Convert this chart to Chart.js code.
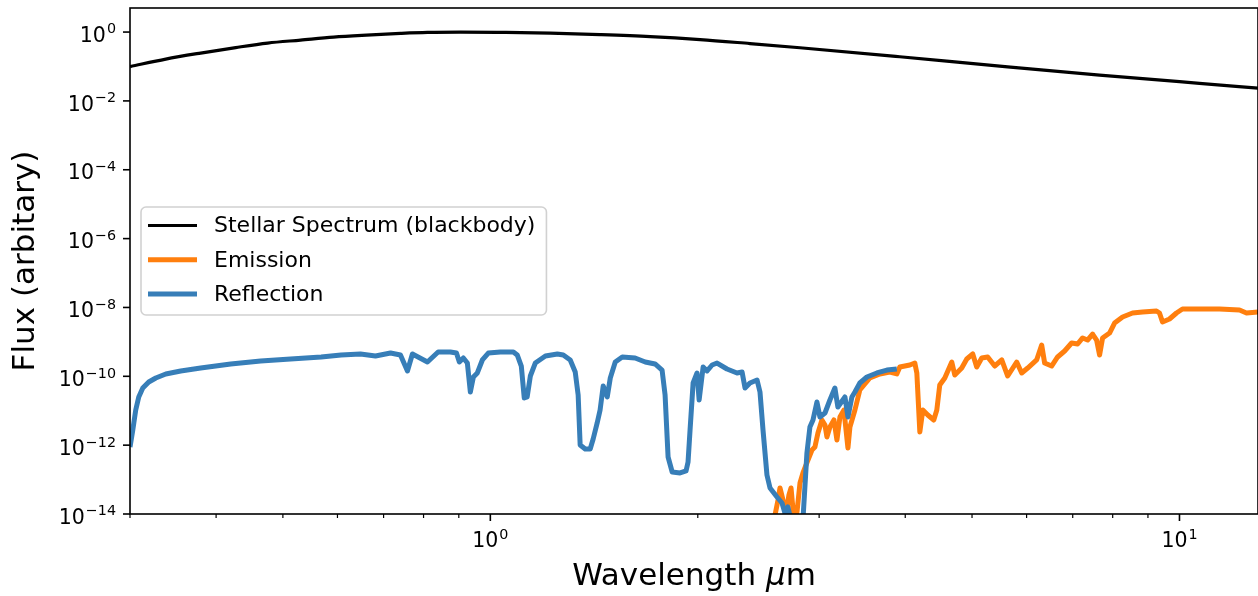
<!DOCTYPE html>
<html lang="en">
<head>
    <meta charset="UTF-8">
    <title>Spectrum</title>
    <script src="https://cdn.jsdelivr.net/npm/chart.js"></script>
    <style>
        body { margin: 0; background: #fff; }
        .wrap { width: 1258px; height: 596px; position: relative; }
    </style>
</head>
<body>
    <div class="wrap">
        <canvas id="spectrum"></canvas>
    </div>

    <script>
        // wavelength in micron, flux normalised to the stellar peak
        const stellarWavelength = [0.3, 0.3381, 0.3799, 0.4271, 0.4752, 0.5304, 0.5924, 0.6611, 0.7406, 0.8105,
            0.9048, 1.034, 1.222, 1.443, 1.706, 2.015, 2.381, 2.814, 3.928, 5.485, 7.657, 10.69, 13];
        const stellarFlux = [0.0995, 0.1643, 0.2455, 0.3548, 0.4792, 0.5856, 0.7157, 0.8182, 0.9167, 0.980,
            1.0, 0.980, 0.9354, 0.8460, 0.7400, 0.6055, 0.4634, 0.3500, 0.1917, 0.1029, 0.0564, 0.0324, 0.0236];

        const emissionWavelength = [2.546, 2.615, 2.632, 2.659, 2.685, 2.712, 2.731, 2.758, 2.786, 2.814,
            2.842, 2.890, 2.929, 2.958, 2.988, 3.028, 3.059, 3.079, 3.110, 3.152,
            3.184, 3.216, 3.259, 3.303, 3.325, 3.381, 3.437, 3.554, 3.675, 3.799,
            3.889, 3.928, 4.062, 4.130, 4.158, 4.200, 4.242, 4.313, 4.400, 4.445,
            4.489, 4.565, 4.673, 4.720, 4.831, 4.913, 5.012, 5.079, 5.165, 5.269,
            5.394, 5.522, 5.633, 5.805, 5.903, 6.022, 6.205, 6.310, 6.373, 6.523,
            6.655, 6.813, 6.974, 7.115, 7.235, 7.356, 7.480, 7.581, 7.657, 7.734,
            7.917, 8.050, 8.268, 8.549, 8.839, 9.261, 9.354, 9.449, 9.672, 9.900,
            10.10, 10.69, 11.43, 12.22, 12.51, 13];
        const emissionFlux = [1.76e-15, 2.55e-14, 5.70e-14, 2.55e-14, 9.37e-15, 3.57e-14, 5.70e-14, 6.71e-15, 1.15e-14, 7.96e-14,
            1.56e-13, 3.71e-13, 7.24e-13, 8.85e-13, 2.25e-12, 5.38e-12, 3.85e-12, 1.73e-12, 3.37e-12, 5.38e-12,
            1.41e-12, 6.58e-12, 1.05e-11, 8.28e-13, 3.37e-12, 1.05e-11, 4.00e-11, 8.93e-11, 1.17e-10, 1.33e-10,
            1.17e-10, 1.86e-10, 2.13e-10, 2.43e-10, 1.25e-10, 2.41e-12, 1.05e-11, 7.52e-12, 5.38e-12, 1.05e-11,
            5.59e-11, 8.93e-11, 2.60e-10, 1.09e-10, 1.74e-10, 3.18e-10, 4.45e-10, 1.86e-10, 3.40e-10, 3.64e-10,
            1.99e-10, 2.98e-10, 1.02e-10, 2.60e-10, 1.25e-10, 1.74e-10, 2.98e-10, 8.11e-10, 2.43e-10, 1.99e-10,
            3.64e-10, 5.43e-10, 9.27e-10, 8.67e-10, 1.30e-9, 1.13e-9, 1.69e-9, 1.13e-9, 4.16e-10, 1.30e-9,
            1.81e-9, 3.53e-9, 5.28e-9, 6.90e-9, 7.38e-9, 7.88e-9, 6.90e-9, 3.78e-9, 4.62e-9, 6.90e-9,
            9.02e-9, 9.02e-9, 9.02e-9, 8.43e-9, 6.90e-9, 7.38e-9];

        const reflectionWavelength = [0.3, 0.3028, 0.3058, 0.3089, 0.3131, 0.3194, 0.3270, 0.3381, 0.3554, 0.3799,
            0.4200, 0.4642, 0.5130, 0.5682, 0.6073, 0.6480, 0.6813, 0.7164, 0.7406, 0.7581,
            0.7708, 0.8105, 0.8399, 0.8751, 0.8930, 0.9017, 0.9138, 0.9261, 0.9354, 0.9449,
            0.9575, 0.9737, 0.9933, 1.034, 1.080, 1.094, 1.109, 1.120, 1.131, 1.143,
            1.162, 1.202, 1.251, 1.276, 1.306, 1.328, 1.341, 1.350, 1.373, 1.396,
            1.410, 1.429, 1.443, 1.458, 1.478, 1.493, 1.518, 1.554, 1.622, 1.678,
            1.734, 1.775, 1.793, 1.811, 1.836, 1.885, 1.923, 1.936, 1.949, 1.969,
            1.995, 2.009, 2.036, 2.063, 2.098, 2.133, 2.205, 2.280, 2.319, 2.342,
            2.381, 2.438, 2.462, 2.487, 2.520, 2.546, 2.606, 2.650, 2.676, 2.703,
            2.740, 2.814, 2.842, 2.880, 2.909, 2.939, 2.978, 3.008, 3.059, 3.110,
            3.162, 3.194, 3.270, 3.303, 3.347, 3.381, 3.437, 3.519, 3.638, 3.762,
            3.889];
        const reflectionFlux = [8.85e-13, 2.76e-12, 1.05e-11, 2.51e-11, 4.57e-11, 6.84e-11, 8.93e-11, 1.17e-10, 1.43e-10, 1.74e-10,
            2.28e-10, 2.78e-10, 3.18e-10, 3.64e-10, 4.16e-10, 4.45e-10, 3.89e-10, 4.75e-10, 4.16e-10, 1.43e-10,
            4.45e-10, 2.60e-10, 5.08e-10, 5.08e-10, 4.75e-10, 2.60e-10, 3.40e-10, 2.43e-10, 3.50e-11, 9.55e-11,
            1.25e-10, 2.98e-10, 4.75e-10, 5.08e-10, 5.08e-10, 4.16e-10, 1.99e-10, 2.34e-11, 2.51e-11, 1.02e-10,
            2.43e-10, 3.89e-10, 4.45e-10, 4.16e-10, 2.98e-10, 1.33e-10, 2.86e-11, 1.01e-12, 7.74e-13, 7.74e-13,
            1.51e-12, 4.41e-12, 1.05e-11, 5.23e-11, 2.51e-11, 8.93e-11, 2.60e-10, 3.64e-10, 3.40e-10, 2.60e-10,
            2.28e-10, 1.52e-10, 2.86e-11, 4.53e-13, 1.66e-13, 1.56e-13, 1.78e-13, 3.24e-13, 2.76e-12, 6.40e-11,
            1.25e-10, 2.05e-11, 1.86e-10, 1.43e-10, 2.13e-10, 2.43e-10, 1.63e-10, 1.25e-10, 1.33e-10, 4.57e-11,
            6.40e-11, 7.81e-11, 3.50e-11, 2.76e-12, 1.36e-13, 5.70e-14, 3.12e-14, 2.09e-14, 1.07e-14, 1.60e-14,
            4.80e-15, 1.76e-15, 6.71e-15, 5.92e-13, 3.37e-12, 5.38e-12, 1.79e-11, 6.58e-12, 8.59e-12, 2.05e-11,
            4.57e-11, 1.28e-11, 2.51e-11, 6.58e-12, 2.51e-11, 3.50e-11, 6.40e-11, 9.55e-11, 1.25e-10, 1.52e-10,
            1.63e-10];

        const seriesLabels = ['Stellar Spectrum (blackbody)', 'Emission', 'Reflection'];
        const yTickValues = [1e0, 1e-2, 1e-4, 1e-6, 1e-8, 1e-10, 1e-12, 1e-14];
        const xMajorTicks = [1, 10];
        const xMinorTicks = [0.3, 0.4, 0.5, 0.6, 0.7, 0.8, 0.9, 2, 3, 4, 5, 6, 7, 8, 9];
        const xTitle = ['Wavelength ', 'μ', 'm'];   // the μ is set in italics
        const yTitle = 'Flux (arbitary)';

        const FONT = 'DejaVu Sans';
        Chart.defaults.font.family = FONT;
        Chart.defaults.color = '#000';

        function toPoints(xs, ys) {
            return xs.map((x, i) => ({ x: x, y: ys[i] }));
        }

        // "10" with a raised exponent, like matplotlib's log tick labels
        function drawPower(ctx, value, x, baseline, align) {
            const exp = Math.round(Math.log10(value));
            const sup = exp < 0 ? '\u2212' + (-exp) : String(exp);
            ctx.font = '20.5px "' + FONT + '"';
            const wBase = ctx.measureText('10').width;
            ctx.font = '14.3px "' + FONT + '"';
            const wSup = ctx.measureText(sup).width;
            const total = wBase + 1 + wSup;
            const x0 = align === 'right' ? x - total : x - total / 2;
            ctx.font = '20.5px "' + FONT + '"';
            ctx.fillText('10', x0, baseline);
            ctx.font = '14.3px "' + FONT + '"';
            ctx.fillText(sup, x0 + wBase + 1, baseline - 8.3);
        }

        const axisDecor = {
            id: 'axisDecor',
            afterDatasetsDraw(chart) {
                const { ctx, chartArea: a, scales: { x, y } } = chart;
                ctx.save();
                ctx.strokeStyle = '#000';
                ctx.fillStyle = '#000';
                ctx.textAlign = 'left';
                ctx.textBaseline = 'alphabetic';

                const tick = (x1, y1, x2, y2) => {
                    ctx.beginPath();
                    ctx.moveTo(x1, y1);
                    ctx.lineTo(x2, y2);
                    ctx.stroke();
                };

                ctx.lineWidth = 1.6;
                yTickValues.forEach(v => {
                    const py = y.getPixelForValue(v);
                    tick(a.left - 7, py, a.left, py);
                    drawPower(ctx, v, a.left - 14, py + 9.7, 'right');
                });
                xMajorTicks.forEach(v => {
                    const px = x.getPixelForValue(v);
                    tick(px, a.bottom, px, a.bottom + 7);
                    drawPower(ctx, v, px, a.bottom + 33, 'center');
                });
                ctx.lineWidth = 1.2;
                xMinorTicks.forEach(v => {
                    const px = x.getPixelForValue(v);
                    if (px >= a.left - 1 && px <= a.right) tick(px, a.bottom, px, a.bottom + 4);
                });

                // axes frame on all four sides
                ctx.lineWidth = 1.6;
                ctx.strokeRect(a.left, a.top, a.right - a.left, a.bottom - a.top);

                // x axis title, with an italic mu
                const fonts = ['31px "' + FONT + '"', 'italic 31px "' + FONT + '"', '31px "' + FONT + '"'];
                const widths = xTitle.map((s, i) => { ctx.font = fonts[i]; return ctx.measureText(s).width; });
                let tx = (a.left + a.right) / 2 - widths.reduce((p, q) => p + q, 0) / 2;
                xTitle.forEach((s, i) => {
                    ctx.font = fonts[i];
                    ctx.fillText(s, tx, 585);
                    tx += widths[i];
                });
                ctx.restore();
            }
        };

        const boxedLegend = {
            id: 'boxedLegend',
            afterDraw(chart) {
                const { ctx, chartArea: a } = chart;
                const sets = chart.data.datasets;
                const rowH = 34.3;
                ctx.save();
                ctx.font = '22px "' + FONT + '"';
                const textW = Math.max(...sets.map(d => ctx.measureText(d.label).width));
                const left = a.left + 11;
                const h = 108;
                const top = (a.top + a.bottom) / 2 - h / 2;
                const w = 73 + textW + 11;

                ctx.beginPath();
                ctx.roundRect(left, top, w, h, 5);
                ctx.fillStyle = 'rgba(255,255,255,0.8)';
                ctx.fill();
                ctx.strokeStyle = 'rgba(204,204,204,0.9)';
                ctx.lineWidth = 1.6;
                ctx.stroke();

                ctx.textAlign = 'left';
                ctx.textBaseline = 'middle';
                sets.forEach((d, i) => {
                    const yy = top + 18.5 + i * rowH;
                    ctx.beginPath();
                    ctx.moveTo(left + 7, yy);
                    ctx.lineTo(left + 56, yy);
                    ctx.strokeStyle = d.borderColor;
                    ctx.lineWidth = d.borderWidth;
                    ctx.stroke();
                    ctx.fillStyle = '#000';
                    ctx.fillText(d.label, left + 73, yy + 1);
                });
                ctx.restore();
            }
        };

        const ctx = document.getElementById('spectrum').getContext('2d');
        new Chart(ctx, {
            type: 'line',
            data: {
                datasets: [{
                    label: seriesLabels[0],
                    data: toPoints(stellarWavelength, stellarFlux),
                    borderColor: '#000000',
                    borderWidth: 3.2,
                    cubicInterpolationMode: 'monotone',
                    order: 2
                },
                {
                    label: seriesLabels[1],
                    data: toPoints(emissionWavelength, emissionFlux),
                    borderColor: '#ff7f0e',
                    borderWidth: 5,
                    order: 1
                },
                {
                    label: seriesLabels[2],
                    data: toPoints(reflectionWavelength, reflectionFlux),
                    borderColor: '#377eb8',
                    borderWidth: 5,
                    order: 0
                }]
            },
            options: {
                responsive: true,
                maintainAspectRatio: false,
                animation: false,
                layout: { padding: { top: 8, right: 0, bottom: 0, left: 0 } },
                elements: {
                    point: { radius: 0, hoverRadius: 0 },
                    line: { tension: 0, borderJoinStyle: 'round', fill: false }
                },
                plugins: {
                    legend: { display: false },
                    tooltip: { enabled: false }
                },
                scales: {
                    x: {
                        type: 'logarithmic',
                        min: 0.3,
                        max: 13,
                        grid: { display: false, drawTicks: false },
                        border: { display: false },
                        ticks: { display: false },
                        afterFit: scale => { scale.height = 82; }
                    },
                    y: {
                        type: 'logarithmic',
                        min: 1e-14,
                        max: 5,
                        grid: { display: false, drawTicks: false },
                        border: { display: false },
                        ticks: { display: false },
                        title: {
                            display: true,
                            text: yTitle,
                            font: { size: 31 },
                            padding: { top: 7, bottom: 4 }
                        },
                        afterFit: scale => { scale.width = 130; }
                    }
                }
            },
            plugins: [axisDecor, boxedLegend]
        });
    </script>
</body>
</html>
